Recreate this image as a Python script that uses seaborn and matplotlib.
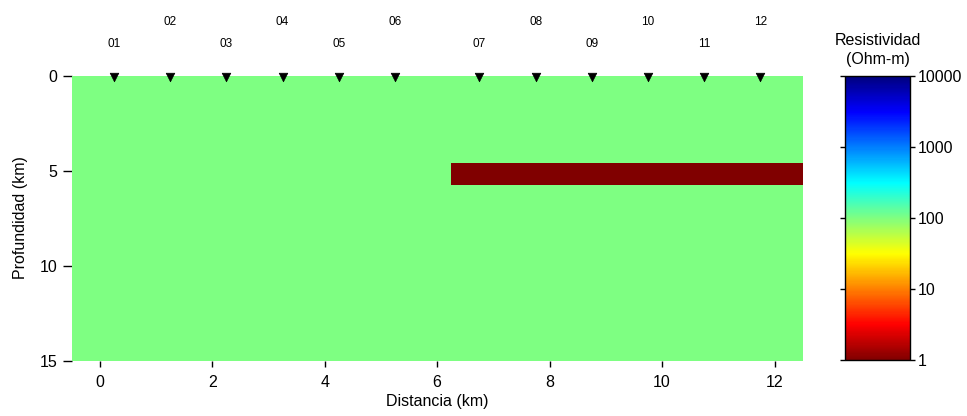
import matplotlib
matplotlib.use("Agg")
import matplotlib.pyplot as plt
import seaborn as sns
import pandas as pd
import numpy as np
from matplotlib.colors import LogNorm, LinearSegmentedColormap

# Resistivity model: cell edges (km) and cell values (Ohm-m)
x_edges = [-0.5, 6.25, 12.5]
depth_edges = [0.0, 4.6, 5.75, 15.0]
rho_top = [100, 100]        # 0 - 4.6 km
rho_conductor = [100, 1]    # 4.6 - 5.75 km, conductive slab east of 6.25 km
rho_bottom = [100, 100]     # 5.75 - 15 km

# MT stations along the profile
station_x = [0.25, 1.25, 2.25, 3.25, 4.25, 5.25, 6.75, 7.75, 8.75, 9.75, 10.75, 11.75]
station_depth = [0.1] * 12
station_names = ["01", "02", "03", "04", "05", "06", "07", "08", "09", "10", "11", "12"]

x_ticks = [0, 2, 4, 6, 8, 10, 12]
depth_ticks = [0, 5, 10, 15]
cbar_ticks = [1, 10, 100, 1000, 10000]
cbar_labels = ["1", "10", "100", "1000", "10000"]

sns.set_style("ticks")
plt.rcParams["font.family"] = ["Liberation Sans", "DejaVu Sans"]
plt.rcParams.update({
    "text.color": "black",
    "axes.labelcolor": "black",
    "xtick.color": "black",
    "ytick.color": "black",
})

# Classic jet, reversed so low resistivity is red
jet = LinearSegmentedColormap(
    "jet_classic",
    {
        "red": [(0, 0, 0), (0.375, 0, 0), (0.625, 1, 1), (0.875, 1, 1), (1, 0.5, 0.5)],
        "green": [(0, 0, 0), (0.125, 0, 0), (0.375, 1, 1), (0.625, 1, 1), (0.875, 0, 0), (1, 0, 0)],
        "blue": [(0, 0.5, 0.5), (0.125, 1, 1), (0.375, 1, 1), (0.625, 0, 0), (1, 0, 0)],
    },
    N=256,
).reversed()
norm = LogNorm(vmin=1, vmax=10000)

fig = plt.figure(figsize=(9.67, 4.16), dpi=100)
ax = fig.add_axes([0.0742, 0.1334, 0.7558, 0.6851])

rho = np.array([rho_top, rho_conductor, rho_bottom], dtype=float)
mesh = ax.pcolormesh(x_edges, depth_edges, rho, cmap=jet, norm=norm, shading="flat")

stations = pd.DataFrame({"x": station_x, "depth": station_depth, "name": station_names})
sns.scatterplot(data=stations, x="x", y="depth", marker="v", s=38, color="black",
                edgecolor="black", linewidth=0.5, ax=ax, clip_on=False, zorder=5, legend=False)

for i, row in stations.iterrows():
    off = 23 if i % 2 == 0 else 38.5
    ax.annotate(row["name"], (row["x"], 0), xytext=(0, off), textcoords="offset points",
                ha="center", va="center", fontsize=8.5, color="black", annotation_clip=False)

ax.set_xlim(-0.5, 12.5)
ax.set_ylim(15, 0)
ax.set_xticks(x_ticks)
ax.set_yticks(depth_ticks)
ax.tick_params(axis="x", direction="out", length=4.5, width=1, pad=6, labelsize=11.5, colors="black")
ax.tick_params(axis="y", direction="out", length=6.5, width=1, pad=4, labelsize=11.5, colors="black")
ax.set_xlabel("Distancia (km)", fontsize=11.5, labelpad=2.5)
ax.set_ylabel("Profundidad (km)", fontsize=11.5, labelpad=8)
for sp in ax.spines.values():
    sp.set_visible(False)

cax = fig.add_axes([0.8738, 0.1344, 0.0672, 0.6819])
cb = fig.colorbar(mesh, cax=cax)
cb.set_ticks(cbar_ticks)
cb.set_ticklabels(cbar_labels)
cb.minorticks_off()
cb.outline.set_edgecolor("black")
cb.outline.set_linewidth(1)
cax.tick_params(axis="y", which="both", left=True, right=True, direction="out",
                length=3.5, width=1, pad=2, labelsize=11.5, colors="black")
cax.set_title("Resistividad\n(Ohm-m)", fontsize=11.5, pad=9, linespacing=1.3, color="black")

fig.savefig("out.png", dpi=100)
